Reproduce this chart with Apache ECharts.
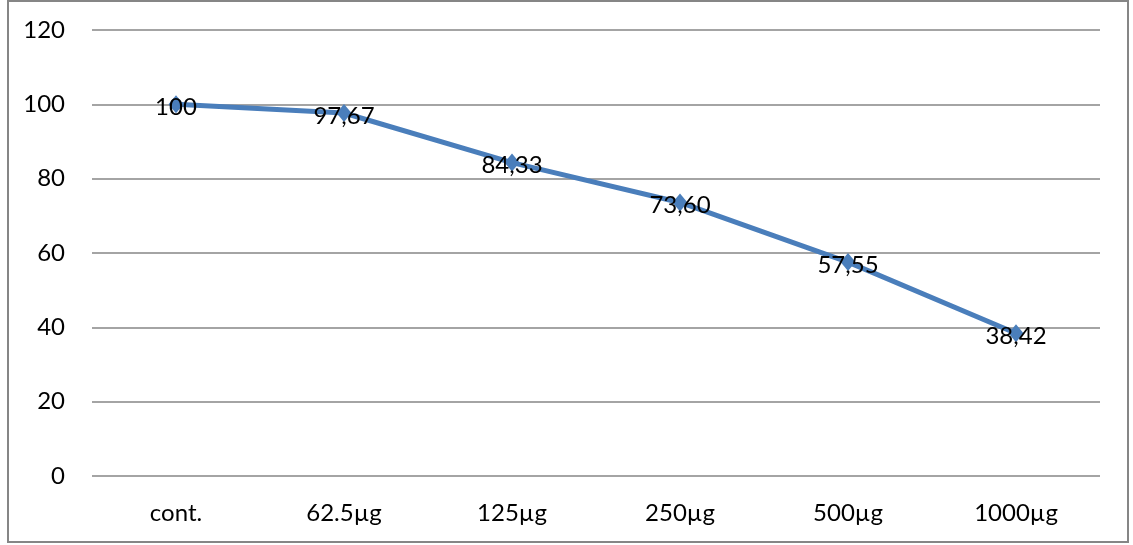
<!DOCTYPE html>
<html>
<head>
<meta charset="utf-8">
<script src="https://cdn.jsdelivr.net/npm/echarts@6/dist/echarts.min.js"></script>
<style>
html,body{margin:0;padding:0;background:#fff;}
#chart{width:1133px;height:545px;}
</style>
</head>
<body>
<div id="chart"></div>
<script>
const categories = ['cont.', '62.5µg', '125µg', '250µg', '500µg', '1000µg'];
const values = [100, 97.67, 84.33, 73.60, 57.55, 38.42];
const valueLabels = ['100', '97,67', '84,33', '73,60', '57,55', '38,42'];
const yTicks = [0, 20, 40, 60, 80, 100, 120];

const FONT = 'Lato, "Open Sans", sans-serif';
const FS = 24;
const chart = echarts.init(document.getElementById('chart'), null, {renderer: 'canvas'});
chart.setOption({
  animation: false,
  backgroundColor: '#ffffff',
  graphic: [{
    type: 'rect',
    shape: {x: 8, y: 1, width: 1120, height: 541},
    style: {fill: 'none', stroke: '#868686', lineWidth: 2},
    z: 100
  }],
  grid: {left: 92, right: 33, top: 30, bottom: 69, containLabel: false},
  xAxis: {
    type: 'category',
    data: categories,
    boundaryGap: true,
    axisLine: {show: false},
    axisTick: {show: false},
    axisLabel: {color: '#000', fontSize: FS, fontFamily: FONT, margin: 25}
  },
  yAxis: {
    type: 'value',
    min: yTicks[0],
    max: yTicks[yTicks.length - 1],
    interval: 20,
    axisLine: {show: false},
    axisTick: {show: false},
    axisLabel: {color: '#000', fontSize: FS, fontFamily: FONT, margin: 27},
    splitLine: {lineStyle: {color: '#868686', width: 1.5}}
  },
  series: [{
    type: 'line',
    data: values,
    symbol: 'diamond',
    symbolSize: [15, 18],
    lineStyle: {color: '#4a7ebb', width: 5},
    itemStyle: {color: '#4a7ebb'},
    label: {
      show: true,
      position: 'inside',
      offset: [0, 3],
      color: '#000',
      fontSize: FS,
      fontFamily: FONT,
      formatter: p => valueLabels[p.dataIndex]
    },
    z: 5
  }]
});
</script>
</body>
</html>
